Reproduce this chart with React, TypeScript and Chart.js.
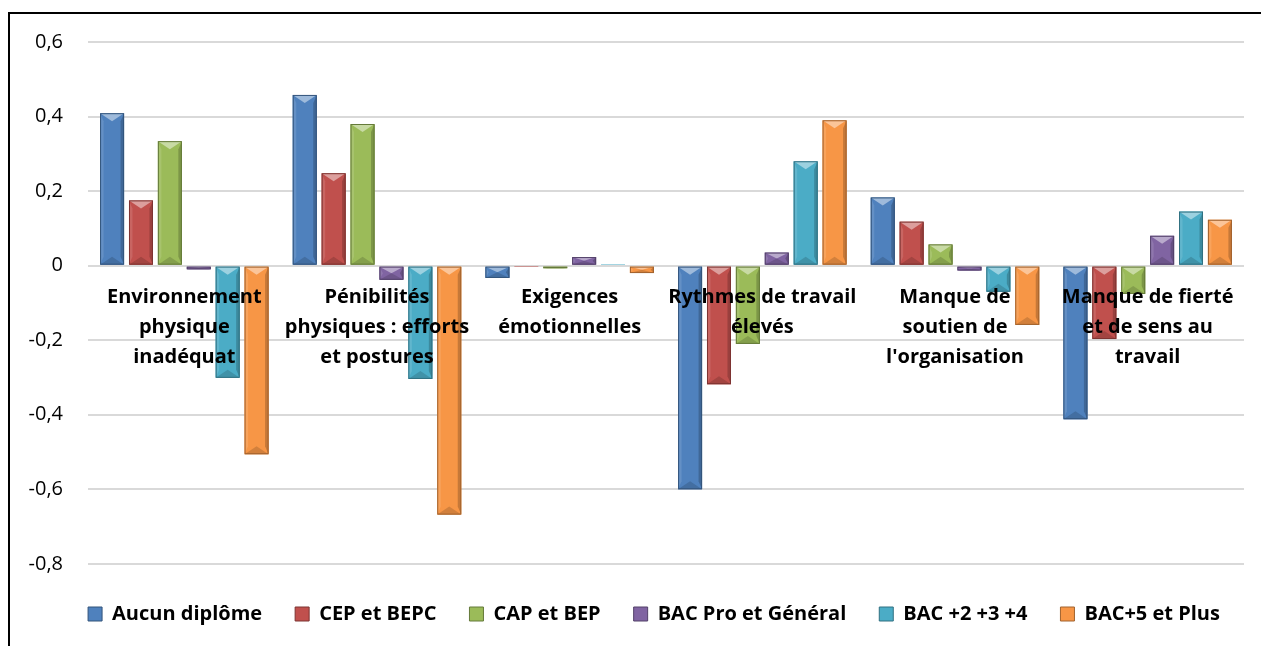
import React, { useEffect, useRef } from "react";
import { Chart, registerables } from "chart.js";

Chart.register(...registerables);

const categories: string[][] = [
  ["Environnement", "physique", "inadéquat"],
  ["Pénibilités", "physiques : efforts", "et postures"],
  ["Exigences", "émotionnelles"],
  ["Rythmes de travail", "élevés"],
  ["Manque de", "soutien de", "l'organisation"],
  ["Manque de fierté", "et de sens au", "travail"],
];

const seriesNames = [
  "Aucun diplôme",
  "CEP et BEPC",
  "CAP et BEP",
  "BAC Pro et Général",
  "BAC +2 +3 +4",
  "BAC+5 et Plus",
];

const aucunDiplome = [0.409, 0.458, -0.033, -0.6, 0.183, -0.412];
const cepBepc = [0.175, 0.248, -0.002, -0.318, 0.118, -0.197];
const capBep = [0.334, 0.38, -0.007, -0.21, 0.057, -0.076];
const bacProGeneral = [-0.01, -0.038, 0.023, 0.035, -0.013, 0.08];
const bac234 = [-0.301, -0.304, 0.004, 0.28, -0.07, 0.145];
const bac5Plus = [-0.506, -0.668, -0.02, 0.39, -0.159, 0.123];

const yTicks = [-0.8, -0.6, -0.4, -0.2, 0, 0.2, 0.4, 0.6];

const colors = ["#4F81BD", "#C0504D", "#9BBB59", "#8064A2", "#4BACC6", "#F79646"];

function shade(hex: string, f: number): string {
  const n = parseInt(hex.slice(1), 16);
  let r = (n >> 16) & 255, g = (n >> 8) & 255, b = n & 255;
  if (f >= 0) {
    r = r + (255 - r) * f; g = g + (255 - g) * f; b = b + (255 - b) * f;
  } else {
    r = r * (1 + f); g = g * (1 + f); b = b * (1 + f);
  }
  return `rgb(${Math.round(r)},${Math.round(g)},${Math.round(b)})`;
}

const bevelPlugin = {
  id: "bevel",
  afterLayout(chart: any) {
    if (chart.legend) {
      chart.legend.left += 26;
      chart.legend.right += 26;
    }
  },
  afterDatasetsDraw(chart: any) {
    const ctx = chart.ctx;
    chart.data.datasets.forEach((ds: any, di: number) => {
      const meta = chart.getDatasetMeta(di);
      const base = colors[di];
      meta.data.forEach((bar: any) => {
        const w = bar.width;
        const left = bar.x - w / 2;
        const right = bar.x + w / 2;
        const top = Math.min(bar.y, bar.base);
        const bottom = Math.max(bar.y, bar.base);
        const h = bottom - top;
        if (h < 1) return;
        const d = Math.min(8, h / 2, w / 2);
        const s = Math.min(3.5, h / 2);
        ctx.save();
        ctx.fillStyle = shade(base, 0.12);
        ctx.beginPath();
        ctx.moveTo(left, top); ctx.lineTo(left + s, top + d); ctx.lineTo(left + s, bottom - d); ctx.lineTo(left, bottom);
        ctx.closePath(); ctx.fill();
        ctx.fillStyle = shade(base, -0.2);
        ctx.beginPath();
        ctx.moveTo(right, top); ctx.lineTo(right - s, top + d); ctx.lineTo(right - s, bottom - d); ctx.lineTo(right, bottom);
        ctx.closePath(); ctx.fill();
        ctx.fillStyle = shade(base, 0.45);
        ctx.beginPath();
        ctx.moveTo(left, top); ctx.lineTo(right, top); ctx.lineTo(bar.x, top + d);
        ctx.closePath(); ctx.fill();
        ctx.fillStyle = shade(base, -0.15);
        ctx.beginPath();
        ctx.moveTo(left, bottom); ctx.lineTo(right, bottom); ctx.lineTo(bar.x, bottom - d);
        ctx.closePath(); ctx.fill();
        ctx.strokeStyle = shade(base, -0.35);
        ctx.lineWidth = 1;
        ctx.strokeRect(left + 0.5, top + 0.5, w - 1, h - 1);
        ctx.restore();
      });
    });
  },
};

export default function App() {
  const ref = useRef<HTMLCanvasElement | null>(null);

  useEffect(() => {
    if (!ref.current) return;
    const series = [aucunDiplome, cepBepc, capBep, bacProGeneral, bac234, bac5Plus];
    const chart = new Chart(ref.current, {
      type: "bar",
      data: {
        labels: categories,
        datasets: series.map((data, i) => ({
          label: seriesNames[i],
          data,
          backgroundColor: colors[i],
          borderWidth: 0,
          categoryPercentage: 0.9,
          barPercentage: 0.83,
        })),
      },
      options: {
        animation: false,
        responsive: false,
        maintainAspectRatio: false,
        layout: { padding: { left: 12, right: 17, top: 42, bottom: 12 } },
        plugins: {
          legend: {
            position: "bottom",
            title: { display: true, text: " ", padding: 0, font: { size: 6, lineHeight: 1.2 } },
            labels: {
              boxWidth: 14,
              boxHeight: 14,
              padding: 33,
              color: "#000",
              font: { family: "'Open Sans'", size: 20, weight: "bold" },
              generateLabels: (c: any) =>
                c.data.datasets.map((ds: any, i: number) => ({
                  text: ds.label,
                  fillStyle: colors[i],
                  strokeStyle: shade(colors[i], -0.35),
                  lineWidth: 1,
                  datasetIndex: i,
                  fontColor: "#000",
                })),
            },
          },
          tooltip: { enabled: false },
        },
        scales: {
          x: {
            position: { y: 0 } as any,
            grid: { display: false, drawTicks: false },
            border: { display: false },
            ticks: {
              z: 1,
              autoSkip: false,
              maxRotation: 0,
              minRotation: 0,
              padding: 17,
              color: "#000",
              font: { family: "'Open Sans'", size: 20, weight: "bold", lineHeight: 1.5 },
            },
          },
          y: {
            min: -0.8,
            max: 0.6,
            afterFit: (s: any) => { s.width = 76; },
            afterBuildTicks: (s: any) => { s.ticks = yTicks.map((v) => ({ value: v })); },
            grid: { color: "#d9d9d9", lineWidth: 2, drawTicks: false },
            border: { display: false },
            ticks: {
              padding: 25,
              color: "#000",
              font: { family: "'Open Sans'", size: 20 },
              callback: (v: any) => (Math.abs(v) < 1e-9 ? "0" : Number(v).toFixed(1).replace(".", ",")),
            },
          },
        },
      },
      plugins: [bevelPlugin],
    });
    return () => chart.destroy();
  }, []);

  return (
    <div style={{ position: "absolute", left: 0, top: 0, width: 1261, height: 646, overflow: "hidden", background: "#fff" }}>
      <div
        style={{
          position: "absolute",
          left: 8,
          top: 12,
          width: 1300,
          height: 700,
          borderLeft: "2px solid #000",
          borderTop: "2px solid #000",
        }}
      />
      <canvas ref={ref} width={1261} height={646} style={{ position: "absolute", left: 0, top: 0, width: 1261, height: 646 }} />
    </div>
  );
}
